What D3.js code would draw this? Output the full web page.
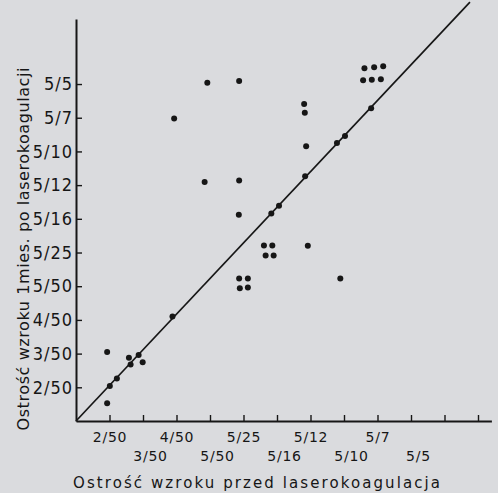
<!DOCTYPE html>
<html>
<head>
<meta charset="utf-8">
<script src="https://cdn.jsdelivr.net/npm/d3@7"></script>
<style>
  body { margin: 0; background: #dadbde; }
  svg { display: block; }
</style>
</head>
<body>
<div id="chart"></div>
<script>
// acuity steps used on both axes (index 1..10)
let xTickLabels = ['2/50', '3/50', '4/50', '5/50', '5/25', '5/16', '5/12', '5/10', '5/7', '5/5']
let yTickLabels = ['2/50', '3/50', '4/50', '5/50', '5/25', '5/16', '5/12', '5/10', '5/7', '5/5']

// each eye: acuity before (x) and 1 month after (y), in scale steps
let xBefore = [0.93, 1.58, 1.87, 1.63, 1.99, 1.22, 1.01, 0.93, 2.88,
  3.92, 4.87, 2.93, 3.84, 4.87, 4.86, 5.83, 6.06,
  5.61, 5.86, 5.66, 5.90, 4.87, 5.13, 4.89, 5.13,
  6.84, 6.92, 7.89, 6.87, 7.79, 8.03, 8.81, 6.81, 6.83,
  8.61, 8.90, 9.17, 8.57, 8.83, 9.10]
let yAfter = [2.05, 1.88, 1.96, 1.68, 1.74, 1.26, 1.04, 0.53, 3.10,
  10.04, 10.09, 8.98, 7.09, 7.14, 6.12, 6.16, 6.39,
  5.21, 5.21, 4.91, 4.91, 4.23, 4.23, 3.94, 3.96,
  7.26, 5.20, 4.23, 8.15, 8.25, 8.46, 9.28, 9.41, 9.15,
  10.47, 10.50, 10.53, 10.11, 10.13, 10.14]

// end of the reference line drawn from the origin
let lineEnd = [11.76, 12.43]

let width = 498
let height = 493
let ink = '#161616'

let svg = d3
  .select('#chart')
  .append('svg')
  .attr('width', width)
  .attr('height', height)

svg
  .append('rect')
  .attr('width', width)
  .attr('height', height)
  .attr('fill', '#dadbde')

let x = d3.scaleLinear().domain([0, 12.4]).range([76, 491.4])
let y = d3.scaleLinear().domain([0, 11.93]).range([421, 19])

// x axis, labels staggered on two rows
let xAxis = d3
  .axisBottom(x)
  .tickValues(d3.range(1, 13))
  .tickFormat((d, i) => xTickLabels[i] || '')
  .tickSizeInner(-6)
  .tickSizeOuter(0)

let gx = svg
  .append('g')
  .attr('transform', `translate(0, ${y(0)})`)
  .call(xAxis)

gx.select('.domain').attr('stroke', ink).attr('stroke-width', 2)
gx.selectAll('.tick line').attr('stroke', ink).attr('stroke-width', 1.4)
gx.selectAll('.tick text')
  .attr('fill', ink)
  .attr('font-family', 'DejaVu Sans, sans-serif')
  .attr('font-size', 14)
  .attr('letter-spacing', 0.8)
  .attr('dy', 0)
  .attr('y', (d, i) => (i % 2 ? 40 : 21))
  .attr('dx', (d, i) => (i % 2 ? 7 : 0))

// y axis
let yAxis = d3
  .axisLeft(y)
  .tickValues(d3.range(1, 11))
  .tickFormat((d, i) => yTickLabels[i])
  .tickSizeInner(-6)
  .tickSizeOuter(0)
  .tickPadding(3)

let gy = svg
  .append('g')
  .attr('transform', `translate(${x(0)}, 0)`)
  .call(yAxis)

gy.select('.domain').attr('stroke', ink).attr('stroke-width', 2)
gy.selectAll('.tick line').attr('stroke', ink).attr('stroke-width', 1.4)
gy.selectAll('.tick text')
  .attr('fill', ink)
  .attr('font-family', 'Liberation Sans Narrow, DejaVu Sans Condensed, sans-serif')
  .attr('font-size', 18)
  .attr('letter-spacing', 1)

// reference line
svg
  .append('line')
  .attr('x1', x(0))
  .attr('y1', y(0))
  .attr('x2', x(lineEnd[0]))
  .attr('y2', y(lineEnd[1]))
  .attr('stroke', ink)
  .attr('stroke-width', 1.7)

// the eyes
svg
  .append('g')
  .selectAll('circle')
  .data(xBefore)
  .enter()
  .append('circle')
  .attr('cx', d => x(d))
  .attr('cy', (d, i) => y(yAfter[i]))
  .attr('r', 3)
  .attr('fill', ink)

// axis titles
svg
  .append('text')
  .text('Ostrość wzroku przed laserokoagulacja')
  .attr('x', 73)
  .attr('y', 488)
  .attr('textLength', 367)
  .attr('lengthAdjust', 'spacing')
  .attr('font-family', 'DejaVu Sans, sans-serif')
  .attr('font-size', 15)
  .attr('fill', ink)

svg
  .append('text')
  .text('Ostrość wzroku 1mies. po laserokoagulacji')
  .attr('transform', 'translate(29, 249) rotate(-90)')
  .attr('text-anchor', 'middle')
  .attr('textLength', 363)
  .attr('lengthAdjust', 'spacing')
  .attr('font-family', 'DejaVu Sans, sans-serif')
  .attr('font-size', 16)
  .attr('fill', ink)
</script>
</body>
</html>
